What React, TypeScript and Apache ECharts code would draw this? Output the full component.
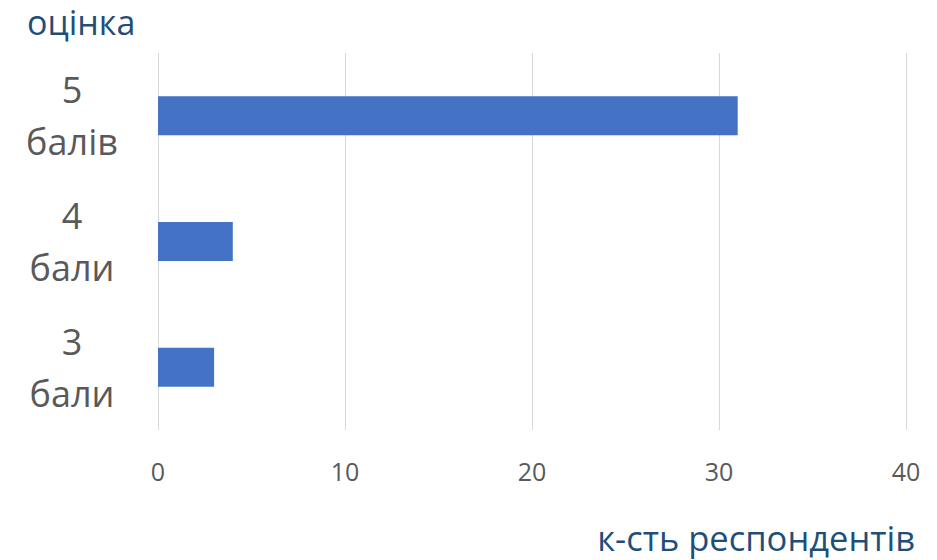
import React, { useEffect, useRef } from "react";
import * as echarts from "echarts";

const categories = ["3\nбали", "4\nбали", "5\nбалів"];
const values = [3, 4, 31];
const xTicks = [0, 10, 20, 30, 40];
const yTitle = "оцінка";
const xTitle = "к-сть респондентів";

export default function App() {
  const ref = useRef<HTMLDivElement>(null);
  useEffect(() => {
    if (!ref.current) return;
    const chart = echarts.init(ref.current, null, { renderer: "svg" });
    const font = "'Open Sans', 'Noto Sans', sans-serif";
    chart.setOption({
      animation: false,
      grid: { left: 158, right: 31, top: 53, bottom: 130, containLabel: false },
      xAxis: {
        type: "value",
        min: xTicks[0],
        max: xTicks[xTicks.length - 1],
        interval: 10,
        axisLine: { show: false },
        axisTick: { show: false },
        splitLine: { show: true, lineStyle: { color: "#d9d9d9", width: 1 } },
        axisLabel: { color: "#595959", fontSize: 25, fontFamily: font, margin: 28 },
      },
      yAxis: {
        type: "category",
        data: categories,
        axisLine: { show: false },
        axisTick: { show: false },
        splitLine: { show: false },
        axisLabel: {
          color: "#595959",
          fontSize: 36,
          fontFamily: font,
          lineHeight: 52,
          align: "center",
          margin: 86,
        },
      },
      series: [
        {
          type: "bar",
          data: values,
          barWidth: 39,
          itemStyle: { color: "#4472c4" },
        },
      ],
      graphic: [
        {
          type: "text",
          left: 27,
          top: 5,
          style: { text: yTitle, fill: "#1f4e79", font: `34px ${font}` },
        },
        {
          type: "text",
          right: 22,
          top: 520,
          style: { text: xTitle, fill: "#1f4e79", font: `34.5px ${font}` },
        },
      ],
    });
    return () => chart.dispose();
  }, []);
  return (
    <div
      ref={ref}
      style={{ position: "fixed", left: 0, top: 0, width: 937, height: 560, background: "#fff" }}
    />
  );
}
